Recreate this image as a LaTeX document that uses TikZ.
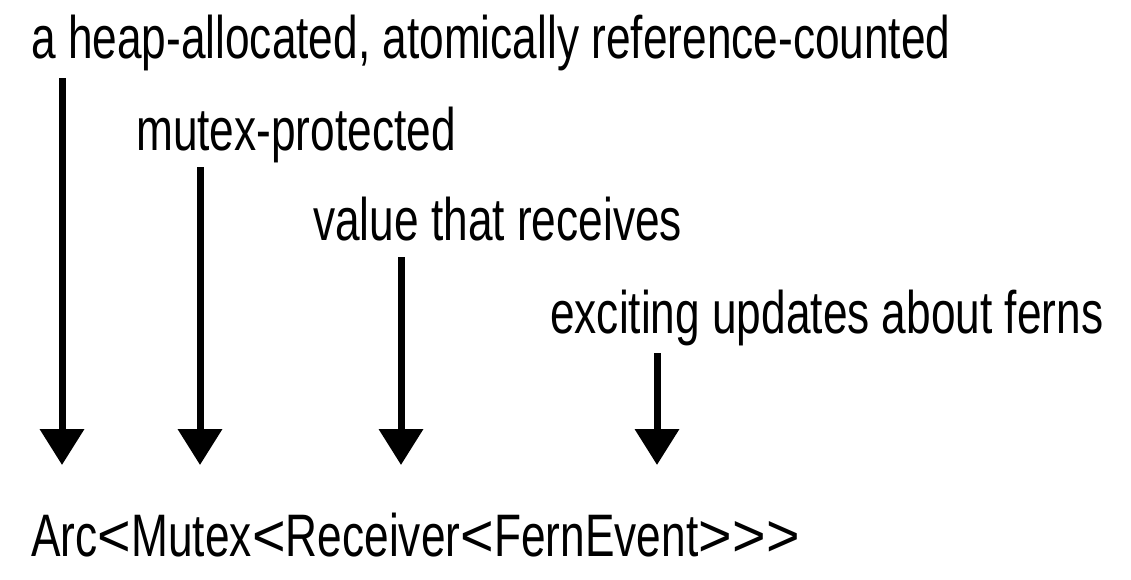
\documentclass[tikz,border=0pt]{standalone}
\usepackage{fontspec}
\setmainfont[FakeStretch=0.737,Ligatures=NoCommon]{Liberation Sans}
\usetikzlibrary{arrows.meta}
\newcommand{\ltsym}{\kern0.2pt\scalebox{1.3}[1]{<}\kern0.2pt}
\newcommand{\gtsym}{\kern0.2pt\scalebox{1.3}[1]{>}\kern0.2pt}
\begin{document}
\begin{tikzpicture}[x=1pt,y=-1pt,
  lbl/.style={anchor=base west,inner sep=0pt,font=\fontsize{60pt}{66pt}\selectfont},
  pointer/.style={line width=7pt,-{Triangle[width=43pt,length=36pt]}}]
\useasboundingbox (0,0) rectangle (1131,579);
\node[lbl] (t1) at (31,58) {a heap-allocated, atomically reference-counted};
\node[lbl] (t2) at (136,150) {mutex-protected};
\node[lbl] (t3) at (313,240) {value that receives};
\node[lbl] (t4) at (550,333) {exciting updates about ferns};
\node[lbl] (ty) at (31,556) {Arc\ltsym Mutex\ltsym Receiver\ltsym FernEvent\gtsym\gtsym\gtsym};
\coordinate (s1) at (62,78);  \coordinate (e1) at (62,465);
\coordinate (s2) at (200,167); \coordinate (e2) at (200,465);
\coordinate (s3) at (401,257); \coordinate (e3) at (401,465);
\coordinate (s4) at (657,353); \coordinate (e4) at (657,465);
\draw[pointer] (s1) -- (e1);
\draw[pointer] (s2) -- (e2);
\draw[pointer] (s3) -- (e3);
\draw[pointer] (s4) -- (e4);
\end{tikzpicture}
\end{document}
